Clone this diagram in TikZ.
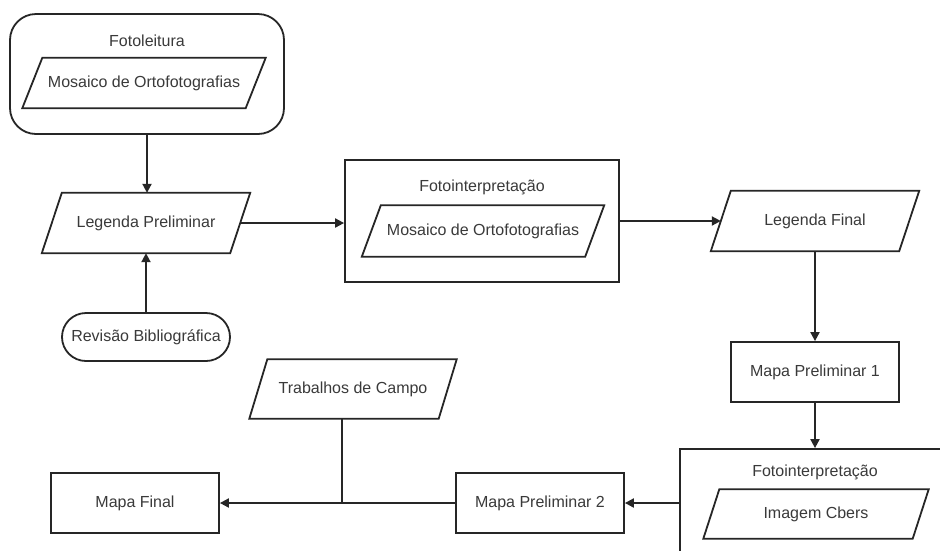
\documentclass[tikz,border=0pt]{standalone}
\usepackage{fontspec}
\setmainfont{Liberation Sans}
\usetikzlibrary{arrows.meta}
\definecolor{ln}{HTML}{262626}
\definecolor{tx}{HTML}{3A3A3A}
\tikzset{
  every node/.style={font=\fontsize{16}{18}\selectfont, text=tx},
  box/.style={draw=ln, line width=1.8pt, rectangle, inner sep=0pt},
  parabody/.style={rectangle, inner sep=0pt},
  paraline/.style={draw=ln, line width=1.8pt, line join=miter},
  title/.style={inner sep=0pt},
  arr/.style={draw=ln, line width=2pt, -{Triangle[length=9pt,width=9pt]}},
  conn/.style={draw=ln, line width=2pt}
}
% \parabox{name}{x}{y}{width}{height}{slant}{text}
\newcommand{\parabox}[7]{%
  \node[parabody, minimum width=#4pt, minimum height=#5pt] (#1) at (#2,#3) {#7};
  \draw[paraline] ([xshift=#6pt]#1.north west) -- (#1.north east)
     -- ([xshift=-#6pt]#1.south east) -- (#1.south west) -- cycle;
}
\begin{document}
\begin{tikzpicture}[x=1pt,y=-1pt]
\clip (0,0) rectangle (940,550);
\fill[white] (0,0) rectangle (940,550);
% containers
\node[box, rounded corners=26pt, minimum width=274pt, minimum height=120pt] (fl) at (147,74) {};
\node[title] (flt) at (147,41) {Fotoleitura};
\parabox{flm}{144}{83}{243}{50}{20}{Mosaico de Ortofotografias}

\node[box, minimum width=274pt, minimum height=122pt] (fi) at (482,221) {};
\node[title] (fit) at (482,187) {Fotointerpretação};
\parabox{fim}{483}{231}{242}{51}{19}{Mosaico de Ortofotografias}

\node[box, minimum width=270pt, minimum height=130pt] (fi2) at (815,514) {};
\node[title] (fi2t) at (815,472) {Fotointerpretação};
\parabox{ic}{816}{514}{225}{49}{16}{Imagem Cbers}

% nodes
\parabox{lp}{146}{223}{208}{60}{20}{Legenda Preliminar}
\node[box, rounded corners=24pt, minimum width=168pt, minimum height=48pt] (rb) at (146,337) {Revisão Bibliográfica};
\parabox{lf}{815}{221}{208}{60}{20}{Legenda Final}
\node[box, minimum width=168pt, minimum height=60pt] (mp1) at (815,372) {Mapa Preliminar 1};
\node[box, minimum width=168pt, minimum height=60pt] (mp2) at (540,503) {Mapa Preliminar 2};
\node[box, minimum width=168pt, minimum height=60pt] (mf) at (135,503) {Mapa Final};
\parabox{tc}{353}{389}{207}{59}{18}{Trabalhos de Campo}

% connectors
\draw[arr] (fl.south) -- (fl.south |- lp.north);
\draw[arr] (rb.north) -- (rb.north |- lp.south);
\draw[arr] ([xshift=-10pt]lp.east) -- (lp.east -| fi.west);
\draw[arr] (fi.east |- lf.west) -- ([xshift=10pt]lf.west);
\draw[arr] (lf.south) -- (mp1.north);
\draw[arr] (mp1.south) -- (mp1.south |- fi2.north);
\draw[arr] (fi2.west |- mp2.east) -- (mp2.east);
\draw[arr] (mp2.west) -- (mf.east);
\coordinate (j) at ([xshift=-11pt]tc.south |- mf.east);
\draw[conn] ([xshift=-11pt]tc.south) -- (j);
\end{tikzpicture}
\end{document}
